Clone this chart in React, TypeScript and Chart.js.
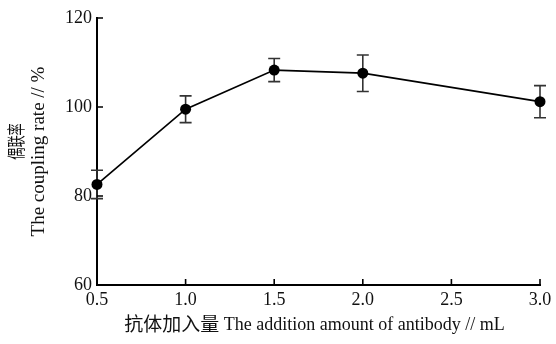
import React, { useEffect, useRef } from 'react';
import { Chart, registerables } from 'chart.js';

Chart.register(...registerables);

// Data
const amounts = [0.5, 1.0, 1.5, 2.0, 3.0];
const couplingRate = [82.6, 99.5, 108.3, 107.6, 101.2];
const errors = [3.2, 3.0, 2.6, 4.1, 3.6];
const xTickValues = [0.5, 1.0, 1.5, 2.0, 2.5, 3.0];
const yTickValues = [60, 80, 100, 120];
const xTitleZh = '抗体加入量';
const xTitleEn = ' The addition amount of antibody // mL';
const yTitleZh = '偶联率';
const yTitleEn = 'The coupling rate // %';

const SERIF = "'Liberation Serif', 'Noto Sans CJK SC', serif";
const CJK = "'Noto Sans CJK SC', sans-serif";

const errorBarPlugin = {
  id: 'errorBars',
  beforeDatasetsDraw(chart: any) {
    const { ctx, scales } = chart;
    const xs = scales.x;
    const ys = scales.y;
    ctx.save();
    ctx.strokeStyle = '#333';
    ctx.lineWidth = 1.6;
    amounts.forEach((a, i) => {
      const x = xs.getPixelForValue(a);
      const yTop = ys.getPixelForValue(couplingRate[i] + errors[i]);
      const yBot = ys.getPixelForValue(couplingRate[i] - errors[i]);
      const cap = 6;
      ctx.beginPath();
      ctx.moveTo(x, yTop);
      ctx.lineTo(x, yBot);
      ctx.moveTo(x - cap, yTop);
      ctx.lineTo(x + cap, yTop);
      ctx.moveTo(x - cap, yBot);
      ctx.lineTo(x + cap, yBot);
      ctx.stroke();
    });
    ctx.restore();
  },
};

const inwardTicksPlugin = {
  id: 'inwardTicks',
  afterDraw(chart: any) {
    const { ctx, scales } = chart;
    const xs = scales.x;
    const ys = scales.y;
    const len = 6;
    ctx.save();
    ctx.strokeStyle = '#000';
    ctx.lineWidth = 1.6;
    ctx.beginPath();
    yTickValues.forEach((v) => {
      const y = ys.getPixelForValue(v);
      ctx.moveTo(xs.left, y);
      ctx.lineTo(xs.left + len, y);
    });
    xTickValues.forEach((v) => {
      const x = xs.getPixelForValue(v);
      ctx.moveTo(x, ys.bottom);
      ctx.lineTo(x, ys.bottom - len);
    });
    ctx.stroke();
    ctx.restore();
  },
};

const axisTitlesPlugin = {
  id: 'axisTitles',
  afterDraw(chart: any) {
    const { ctx, chartArea } = chart;
    ctx.save();
    ctx.fillStyle = '#111';
    ctx.textBaseline = 'middle';
    ctx.textAlign = 'left';
    // x title: mixed CJK + Latin
    const zhFont = `19px ${CJK}`;
    const enFont = `18px ${SERIF}`;
    ctx.font = zhFont;
    const wZh = ctx.measureText(xTitleZh).width;
    ctx.font = enFont;
    const wEn = ctx.measureText(xTitleEn).width;
    const cx = (chartArea.left + chartArea.right) / 2 - 4;
    const startX = cx - (wZh + wEn) / 2;
    const ty = chartArea.bottom + 39;
    ctx.font = zhFont;
    ctx.fillText(xTitleZh, startX, ty);
    ctx.font = enFont;
    ctx.fillText(xTitleEn, startX + wZh, ty + 1);

    // y title: two rotated lines
    ctx.textAlign = 'center';
    ctx.save();
    ctx.translate(16, chartArea.top + (chartArea.bottom - chartArea.top) / 2 - 10);
    ctx.rotate(-Math.PI / 2);
    ctx.scale(0.68, 1);
    ctx.font = `18px ${CJK}`;
    ctx.fillText(yTitleZh, 0, 0);
    ctx.restore();
    ctx.save();
    ctx.translate(39, (chartArea.top + chartArea.bottom) / 2);
    ctx.rotate(-Math.PI / 2);
    ctx.font = `19px ${SERIF}`;
    ctx.fillText(yTitleEn, 0, 0);
    ctx.restore();
    ctx.restore();
  },
};

export default function App() {
  const canvasRef = useRef<HTMLCanvasElement | null>(null);

  useEffect(() => {
    if (!canvasRef.current) return;
    const chart = new Chart(canvasRef.current, {
      type: 'line',
      data: {
        datasets: [
          {
            data: amounts.map((a, i) => ({ x: a, y: couplingRate[i] })),
            borderColor: '#000',
            borderWidth: 1.7,
            pointRadius: 5.5,
            pointBackgroundColor: '#000',
            pointBorderColor: '#000',
            pointBorderWidth: 0,
            tension: 0,
            clip: false,
          },
        ],
      },
      options: {
        animation: false,
        responsive: false,
        maintainAspectRatio: false,
        layout: { padding: { left: 0, right: 16, top: 18, bottom: 0 } },
        plugins: {
          legend: { display: false },
          tooltip: { enabled: false },
        },
        scales: {
          x: {
            type: 'linear',
            min: 0.5,
            max: 3.0,
            afterBuildTicks: (scale: any) => {
              scale.ticks = xTickValues.map((v) => ({ value: v }));
            },
            afterFit: (scale: any) => {
              scale.height = 59;
            },
            grid: { display: false, drawTicks: false },
            border: { display: true, color: '#000', width: 2 },
            ticks: {
              color: '#111',
              padding: 4,
              maxRotation: 0,
              font: { family: SERIF, size: 18 },
              callback: (v: any) => Number(v).toFixed(1),
            },
          },
          y: {
            type: 'linear',
            min: 60,
            max: 120,
            afterBuildTicks: (scale: any) => {
              scale.ticks = yTickValues.map((v) => ({ value: v }));
            },
            afterFit: (scale: any) => {
              scale.width = 97;
            },
            grid: { display: false, drawTicks: false },
            border: { display: true, color: '#000', width: 2 },
            ticks: {
              color: '#111',
              padding: 5,
              font: { family: SERIF, size: 18 },
              callback: (v: any) => String(v),
            },
          },
        },
      },
      plugins: [errorBarPlugin, inwardTicksPlugin, axisTitlesPlugin],
    } as any);
    return () => chart.destroy();
  }, []);

  return (
    <div style={{ position: 'absolute', left: 0, top: 0, width: 556, height: 344, background: '#fff' }}>
      <canvas ref={canvasRef} width={556} height={344} style={{ width: 556, height: 344 }} />
    </div>
  );
}
